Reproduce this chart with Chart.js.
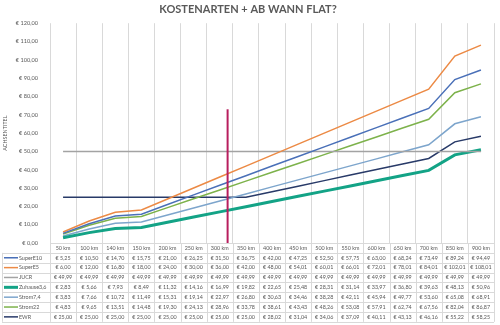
<!DOCTYPE html>
<html>
<head>
<meta charset="utf-8">
<script src="https://cdn.jsdelivr.net/npm/chart.js@4"></script>
<style>
  html, body { margin: 0; padding: 0; background: #fff; }
  #wrap { width: 500px; height: 325px; }
</style>
</head>
<body>
<div id="wrap"><canvas id="myChart" width="500" height="325"></canvas></div>
<script>
// Strecken (Kategorien)
const strecken = ['50 km', '100 km', '140 km', '150 km', '200 km', '250 km', '300 km', '350 km', '400 km',
  '450 km', '500 km', '550 km', '600 km', '650 km', '700 km', '850 km', '900 km'];

// Kosten je Strecke in Euro
const superE10 = [5.25, 10.50, 14.70, 15.75, 21.00, 26.25, 31.50, 36.75, 42.00, 47.25, 52.50, 57.75, 63.00, 68.24, 73.49, 89.24, 94.49];
const superE5 = [6.00, 12.00, 16.80, 18.00, 24.00, 30.00, 36.00, 42.00, 48.00, 54.01, 60.01, 66.01, 72.01, 78.01, 84.01, 102.01, 108.01];
const jucr = [49.99, 49.99, 49.99, 49.99, 49.99, 49.99, 49.99, 49.99, 49.99, 49.99, 49.99, 49.99, 49.99, 49.99, 49.99, 49.99, 49.99];
const zuhause36 = [2.83, 5.66, 7.93, 8.49, 11.32, 14.16, 16.99, 19.82, 22.65, 25.48, 28.31, 31.14, 33.97, 36.80, 39.63, 48.13, 50.96];
const strom74 = [3.83, 7.66, 10.72, 11.49, 15.31, 19.14, 22.97, 26.80, 30.63, 34.46, 38.28, 42.11, 45.94, 49.77, 53.60, 65.08, 68.91];
const strom22 = [4.83, 9.65, 13.51, 14.48, 19.30, 24.13, 28.96, 33.78, 38.61, 43.43, 48.26, 53.08, 57.91, 62.74, 67.56, 82.04, 86.87];
const ewr = [25.00, 25.00, 25.00, 25.00, 25.00, 25.00, 25.00, 25.00, 28.02, 31.04, 34.06, 37.09, 40.11, 43.13, 46.16, 55.22, 58.25];

// Markierung "ab wann Flat" (km-Position und Höhe in Euro)
const flatKm = 315;
const flatEuro = 73;

// y-Achse
const yMin = 0, yMax = 120, yStep = 10;

const euro = (v) => '€ ' + v.toFixed(2).replace('.', ',');
const grau = '#595959';
const linie = '#D9D9D9';
const schrift = 'Lato, "Open Sans", sans-serif';

// Datentabelle unter dem Diagramm
const tabelle = {
  id: 'datentabelle',
  afterDraw(chart) {
    const { ctx, scales: { x }, chartArea } = chart;
    const sets = chart.data.datasets;
    const rowH = 9.85;
    const top = chartArea.bottom;
    const colW = x.getPixelForValue(1) - x.getPixelForValue(0);
    const left = chartArea.left;
    const right = chartArea.right;
    const legLeft = 2;
    const bottom = top + rowH * (sets.length + 1);

    ctx.save();
    ctx.strokeStyle = linie;
    ctx.lineWidth = 1;
    // horizontale Linien
    for (let r = 0; r <= sets.length + 1; r++) {
      const y = Math.round(top + r * rowH) + 0.5;
      ctx.beginPath();
      ctx.moveTo(r >= 1 ? legLeft : left, y);
      ctx.lineTo(right, y);
      ctx.stroke();
    }
    // vertikale Linien
    for (let c = 0; c <= strecken.length; c++) {
      const xx = Math.round(left + c * colW) + 0.5;
      ctx.beginPath();
      ctx.moveTo(xx, top);
      ctx.lineTo(xx, bottom);
      ctx.stroke();
    }
    ctx.beginPath();
    ctx.moveTo(legLeft + 0.5, top + rowH);
    ctx.lineTo(legLeft + 0.5, bottom);
    ctx.stroke();

    ctx.font = '5.4px ' + schrift;
    ctx.fillStyle = grau;
    ctx.textBaseline = 'middle';
    ctx.textAlign = 'center';
    strecken.forEach((s, i) => {
      ctx.fillText(s, x.getPixelForValue(i), top + rowH / 2);
    });
    sets.forEach((ds, r) => {
      const yc = top + rowH * (r + 1.5);
      ctx.textAlign = 'center';
      ds.data.forEach((v, i) => {
        ctx.fillText(euro(v), x.getPixelForValue(i), yc);
      });
      // Legendenschlüssel
      ctx.strokeStyle = ds.borderColor;
      ctx.lineWidth = ds.borderWidth;
      ctx.beginPath();
      ctx.moveTo(legLeft + 2, yc);
      ctx.lineTo(legLeft + 16, yc);
      ctx.stroke();
      ctx.textAlign = 'left';
      ctx.fillText(ds.label, legLeft + 17, yc);
    });
    ctx.restore();
  }
};

// senkrechte Markierung
const markierung = {
  id: 'markierung',
  afterDatasetsDraw(chart) {
    const { ctx, scales: { x, y } } = chart;
    const km = strecken.map((s) => parseInt(s, 10));
    let i = 0;
    while (i < km.length - 2 && km[i + 1] <= flatKm) i++;
    const t = (flatKm - km[i]) / (km[i + 1] - km[i]);
    const px = x.getPixelForValue(i) + t * (x.getPixelForValue(i + 1) - x.getPixelForValue(i));
    ctx.save();
    ctx.strokeStyle = '#B81E5E';
    ctx.lineWidth = 2;
    ctx.beginPath();
    ctx.moveTo(px, y.getPixelForValue(flatEuro));
    ctx.lineTo(px, y.getPixelForValue(0) + 1);
    ctx.stroke();
    ctx.restore();
  }
};

const reihe = (label, data, color, width) => ({
  label, data,
  borderColor: color,
  backgroundColor: color,
  borderWidth: width || 1.5,
  pointRadius: 0,
  tension: 0,
});

const ctx = document.getElementById('myChart').getContext('2d');
const myChart = new Chart(ctx, {
  type: 'line',
  data: {
    labels: strecken,
    datasets: [
      reihe('SuperE10', superE10, '#4A70B8'),
      reihe('SuperE5', superE5, '#EC8A45'),
      reihe('JUCR', jucr, '#A3A3A3'),
      reihe('Zuhause3,6', zuhause36, '#13A386', 3),
      reihe('Strom7,4', strom74, '#7DA5CC'),
      reihe('Strom22', strom22, '#7DB24B'),
      reihe('EWR', ewr, '#283A68'),
    ],
  },
  plugins: [tabelle, markierung],
  options: {
    responsive: false,
    animation: false,
    layout: { padding: { left: 2, right: 6, top: 2, bottom: 82 } },
    plugins: {
      legend: { display: false },
      tooltip: { enabled: false },
      title: {
        display: true,
        text: 'KOSTENARTEN + AB WANN FLAT?',
        color: grau,
        font: { family: schrift, size: 11, weight: 'bold' },
        padding: { top: 1, bottom: 7 },
      },
    },
    scales: {
      x: {
        offset: true,
        grid: { color: linie, offset: true, drawTicks: false },
        border: { color: linie },
        ticks: { display: false },
      },
      y: {
        min: yMin,
        max: yMax,
        grid: { display: false },
        border: { display: false },
        ticks: {
          stepSize: yStep,
          color: grau,
          padding: 4,
          font: { family: schrift, size: 5.6 },
          callback: (v) => euro(v),
        },
        title: {
          display: true,
          text: 'ACHSENTITEL',
          color: grau,
          padding: 0,
          font: { family: schrift, size: 5.4 },
        },
        afterFit: (s) => { s.width = 48; },
      },
    },
  },
});
</script>
</body>
</html>
